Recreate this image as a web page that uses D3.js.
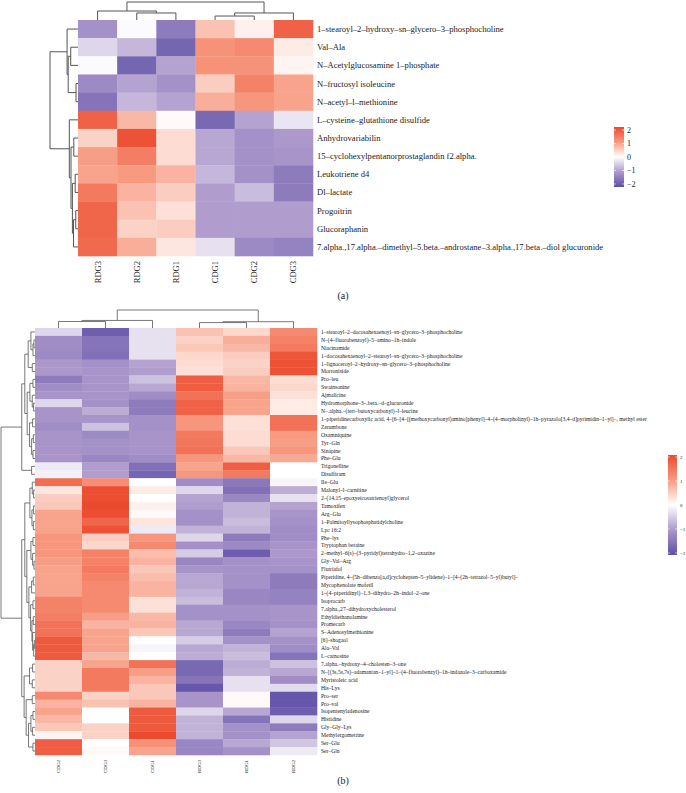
<!DOCTYPE html>
<html>
<head>
<meta charset="utf-8">
<script src="https://cdn.jsdelivr.net/npm/d3@7"></script>
<style>
  body{margin:0;background:#fff;}
  text{font-family:"Liberation Serif","DejaVu Serif",serif;fill:#222;}
</style>
</head>
<body>
<div id="chart"></div>
<script>
var W=686,H=793;

// ---------- panel (a) ----------
var topCols=["RDG3","RDG2","RDG1","CDG1","CDG2","CDG3"];
var topRows=["1\u2013stearoyl\u20132\u2013hydroxy\u2013sn\u2013glycero\u20133\u2013phosphocholine","Val\u2013Ala","N\u2013Acetylglucosamine 1\u2013phosphate","N\u2013fructosyl isoleucine","N\u2013acetyl\u2013l\u2013methionine","L\u2013cysteine\u2013glutathione disulfide","Anhydrovariabilin","15\u2013cyclohexylpentanorprostaglandin f2.alpha.","Leukotriene d4","Dl\u2013lactate","Progoitrin","Glucoraphanin","7.alpha.,17.alpha.\u2013dimethyl\u20135.beta.\u2013androstane\u20133.alpha.,17.beta.\u2013diol glucuronide"];
var topValues=[
 [-1.1,-0.05,-1.4,0.6,0.15,1.7],
 [-0.4,-0.7,-1.7,1.1,1.2,0.2],
 [-0.05,-1.7,-0.9,1.1,1.1,0.1],
 [-1.2,-0.9,-1.1,0.5,1.3,0.9],
 [-1.5,-0.7,-0.9,0.8,1.05,0.9],
 [1.7,0.7,0.05,-1.65,-0.9,-0.25],
 [0.45,1.9,0.35,-0.85,-1.1,-1.0],
 [0.95,1.35,0.35,-0.85,-1.1,-1.05],
 [0.9,1.0,0.75,-0.7,-1.1,-1.4],
 [1.4,0.75,0.5,-0.95,-0.65,-1.4],
 [1.65,0.6,0.3,-0.95,-0.95,-0.95],
 [1.65,0.45,0.5,-0.95,-0.95,-0.95],
 [1.6,0.8,0.25,-0.3,-1.2,-1.3]
];
// trees: [height, left, right], leaves are row/col index
var topRowTree=[10,[3.9,0,[3.5,[2.6,1,2],[0.7,3,4]]],[3.1,5,[2.5,[1.5,6,7],[2.0,[1.0,8,9],[1.6,[0.8,10,11],12]]]]];
var topColTree=[10,[5,0,[3.9,1,2]],[3.9,[2.2,3,4],5]];

// ---------- panel (b) ----------
var botCols=["CDG2","CDG3","CDG1","RDG3","RDG1","RDG2"];
var botRows=["1\u2013stearoyl\u20132\u2013docosahexaenoyl\u2013sn\u2013glycero\u20133\u2013phosphocholine","N\u2013(4\u2013fluorobenzoyl)\u20135\u2013amino\u20131h\u2013indole","Niacinamide","1\u2013docosahexaenoyl\u20132\u2013stearoyl\u2013sn\u2013glycero\u20133\u2013phosphocholine","1\u2013lignoceroyl\u20132\u2013hydroxy\u2013sn\u2013glycero\u20133\u2013phosphocholine","Morroniside","Pro\u2013leu","Swainsonine","Ajmalicine","Hydromorphone\u20133\u2013.beta.\u2013d\u2013glucuronide","N\u2013.alpha.\u2013(tert\u2013butoxycarbonyl)\u2013l\u2013leucine","1\u2013piperidinecarboxylic acid, 4\u2013[6\u2013[4\u2013[(methoxycarbonyl)amino]phenyl]\u20134\u2013(4\u2013morpholinyl)\u20131h\u2013pyrazolo[3,4\u2013d]pyrimidin\u20131\u2013yl]\u2013, methyl ester","Zerumbone","Oxamniquine","Tyr\u2013Gln","Sinapine","Phe\u2013Glu","Trigonelline","Disulfiram","Ile\u2013Glu","Malonyl\u2013l\u2013carnitine","2\u2013(14,15\u2013epoxyeicosatrienoyl)glycerol","Tamoxifen","Arg\u2013Glu","1\u2013Palmitoyllysophosphatidylcholine","Lpc 16:2","Phe\u2013lys","Tryptophan betaine","2\u2013methyl\u20136(s)\u2013(3\u2013pyridyl)tetrahydro\u20131,2\u2013oxazine","Gly\u2013Val\u2013Arg","Flutriafol","Piperidine, 4\u2013(5h\u2013dibenzo[a,d]cyclohepten\u20135\u2013ylidene)\u20131\u2013[4\u2013(2h\u2013tetrazol\u20135\u2013yl)butyl]\u2013","Mycophenolate mofetil","1\u2013(4\u2013piperidinyl)\u20131,3\u2013dihydro\u20132h\u2013indol\u20132\u2013one","Isoprocarb","7.alpha.,27\u2013dihydroxycholesterol","Ethyldiethanolamine","Promecarb","S\u2013Adenosylmethionine","[6]\u2013shogaol","Ala\u2013Val","L\u2013carnosine","7.alpha.\u2013hydroxy\u20134\u2013cholesten\u20133\u2013one","N\u2013[(3s,5s,7s)\u2013adamantan\u20131\u2013yl]\u20131\u2013(4\u2013fluorobenzyl)\u20131h\u2013indazole\u20133\u2013carboxamide","Myristoleic acid","His\u2013Lys","Pro\u2013ser","Pro\u2013val","Isopentenyladenosine","Histidine","Gly\u2013Gly\u2013Lys","Methylergometrine","Ser\u2013Glu","Ser\u2013Gln"];
var botValues=[
 [-0.4,-1.8,-0.3,0.6,0.4,1.2],
 [-1.15,-1.5,-0.3,0.45,0.8,1.3],
 [-1.15,-1.5,-0.3,0.55,0.7,1.4],
 [-1.2,-1.55,-0.3,0.4,0.5,1.85],
 [-1.0,-1.1,-0.9,0.35,0.45,1.9],
 [-1.0,-1.05,-0.95,0.3,0.5,1.9],
 [-1.4,-1.05,-0.6,1.75,0.7,0.35],
 [-1.15,-1.05,-0.85,1.75,0.75,0.4],
 [-1.05,-1.05,-1.15,1.5,0.95,0.3],
 [-0.4,-1.1,-1.4,1.7,0.9,0.2],
 [-1.05,-0.8,-1.4,1.7,0.9,0.2],
 [-1.05,-1.05,-1.1,1.05,0.3,1.5],
 [-1.15,-0.6,-1.1,1.05,0.3,1.5],
 [-1.05,-1.2,-1.05,1.4,0.35,1.0],
 [-1.05,-1.1,-1.05,1.45,0.35,0.95],
 [-1.05,-1.1,-1.05,1.5,0.55,1.05],
 [-1.05,-1.25,-1.15,1.05,0.7,0.85],
 [-0.2,-0.95,-1.55,0.9,1.75,0.0],
 [-0.15,-0.95,-1.7,1.05,1.4,0.0],
 [1.55,1.15,0,-1.15,-1.45,-0.1],
 [0.25,1.95,0.2,-0.4,-1.55,-0.8],
 [0.5,1.95,0,-0.9,-1.25,-0.3],
 [0.55,2.0,0.15,-0.95,-0.75,-0.9],
 [0.9,1.95,0.05,-1.1,-0.75,-1.05],
 [0.9,1.65,0.25,-1.1,-0.65,-1.1],
 [0.9,1.9,-0.2,-0.75,-0.75,-1.15],
 [1.05,0.5,1.05,-0.4,-1.4,-1.15],
 [1.05,0.4,1.2,-1.1,-1.2,-1.05],
 [1.05,1.3,0.65,-0.5,-1.8,-1.0],
 [0.95,1.3,0.75,-1.25,-1.1,-1.05],
 [0.9,1.4,0.55,-1.05,-1.1,-1.1],
 [0.9,1.3,0.65,-0.85,-1.1,-1.4],
 [0.9,1.2,0.75,-0.85,-1.1,-1.4],
 [0.9,1.2,0.75,-0.75,-1.25,-1.3],
 [1.3,1.2,0.3,-0.65,-1.25,-1.3],
 [1.3,1.2,0.3,-1.1,-1.1,-1.05],
 [1.35,0.95,0.7,-1.1,-1.1,-1.05],
 [1.5,0.75,0.75,-0.85,-1.25,-1.1],
 [1.5,0.9,0.55,-0.85,-1.4,-0.9],
 [1.8,0.9,0,-0.5,-1.1,-1.1],
 [1.8,0.9,-0.1,-0.85,-0.75,-1.15],
 [1.8,0.7,0,-0.8,-0.65,-1.5],
 [0.45,0.9,1.5,-1.65,-0.8,-0.6],
 [0.45,1.4,0.95,-1.65,-0.75,-0.85],
 [0.45,1.4,0.75,-1.5,-0.3,-1.15],
 [0.45,1.4,0.55,-1.9,-0.3,-0.35],
 [1.2,0.45,0.55,-1.05,0.05,-1.9],
 [0.75,0.6,0.75,-1.05,0.05,-1.9],
 [0.9,0,1.8,-0.4,-0.85,-1.8],
 [0.7,0,1.8,-0.75,-1.5,-0.4],
 [0.55,0.45,1.8,-0.75,-1.1,-1.4],
 [0.1,0.45,2.0,-0.75,-1.1,-0.9],
 [1.75,0,1.1,-1.25,-0.85,-0.55],
 [1.75,0.05,0.9,-1.25,-1.1,-0.2]
];
var botRowTree=[10,
 [3.9,[3.0,[2.0,[1.2,0,[0.6,[0.3,1,2],3]],[0.8,4,5]],[2.3,[1.5,[0.6,6,7],[0.8,8,[0.4,9,10]]],[1.6,[0.7,11,12],[1.0,[0.5,13,14],[0.6,15,16]]]]],[1.0,17,18]],
 [3.9,[3.0,[1.5,[0.8,19,[0.4,20,21]],[0.9,[0.4,22,23],[0.5,24,25]]],[2.4,[1.2,[0.6,26,27],[0.7,28,[0.3,29,30]]],[1.8,[1.0,[0.5,31,32],33],[1.3,[0.6,34,35],[0.9,[0.5,36,37],[0.7,38,[0.4,[0.2,39,40],41]]]]]]],
  [3.2,[1.6,[0.7,42,43],[0.8,44,45]],[2.6,[0.8,46,47],[1.9,[1.2,[0.6,48,49],[0.7,50,51]],[0.6,52,53]]]]]];
var botColTree=[10,[4.2,[3.6,0,1],2],[3.5,[3.0,3,4],5]];

var legendTicks=[2,1,0,-1,-2];

var color=d3.scaleLinear()
  .domain([-2,-1,0,1,2])
  .range(["#5e50a6","#ac98cb","#ffffff","#f79a80","#ec4a2e"])
  .clamp(true);

var svg=d3.select("#chart").append("svg")
  .attr("width",W).attr("height",H);

// draws an elbow dendrogram; row=true means heights go along x
function drawTree(g,tree,pos,hs,row,sw){
  function walk(node){
    if(typeof node==="number") return {p:pos(node),h:0};
    var a=walk(node[1]),b=walk(node[2]),h=node[0];
    var d;
    if(row){
      d="M"+hs(a.h)+","+a.p+"H"+hs(h)+"V"+b.p+"H"+hs(b.h);
    }else{
      d="M"+a.p+","+hs(a.h)+"V"+hs(h)+"H"+b.p+"V"+hs(b.h);
    }
    g.append("path").attr("d",d).attr("fill","none")
      .attr("stroke","#555").attr("stroke-width",sw);
    return {p:(a.p+b.p)/2,h:h};
  }
  walk(tree);
}

function heatmap(cfg){
  var g=svg.append("g");
  var xb=d3.scaleBand().domain(d3.range(cfg.cols.length)).range([cfg.x0,cfg.x1]);
  var yb=d3.scaleBand().domain(d3.range(cfg.rows.length)).range([cfg.y0,cfg.y1]);

  cfg.values.forEach(function(r,i){
    g.selectAll(null).data(r).enter().append("rect")
      .attr("x",function(d,j){return xb(j);})
      .attr("y",yb(i))
      .attr("width",xb.bandwidth()+0.3)
      .attr("height",yb.bandwidth()+0.3)
      .attr("fill",function(d){return color(d);});
  });

  g.selectAll(".rl").data(cfg.rows).enter().append("text")
    .attr("x",cfg.x1+cfg.labGap)
    .attr("y",function(d,i){return yb(i)+yb.bandwidth()/2;})
    .attr("dy","0.35em")
    .style("font-size",cfg.rowFont+"px")
    .text(function(d){return d;});

  g.selectAll(".cl").data(cfg.cols).enter().append("text")
    .attr("transform",function(d,i){return "translate("+(xb(i)+xb.bandwidth()/2)+","+(cfg.y1+cfg.colGap)+") rotate(-90)";})
    .attr("text-anchor","end")
    .attr("dy","0.35em")
    .style("font-size",cfg.colFont+"px")
    .text(function(d){return d;});

  var rh=d3.scaleLinear().domain([0,10]).range([cfg.x0,cfg.rowDendX]);
  drawTree(g,cfg.rowTree,function(i){return yb(i)+yb.bandwidth()/2;},rh,true,cfg.sw);
  var ch=d3.scaleLinear().domain([0,10]).range([cfg.y0,cfg.colDendY]);
  drawTree(g,cfg.colTree,function(j){return xb(j)+xb.bandwidth()/2;},ch,false,cfg.sw);

  // legend
  var ly=d3.scaleLinear().domain([-2,2]).range([cfg.leg.y1,cfg.leg.y0]);
  var id="grad"+cfg.id;
  var grad=svg.append("defs").append("linearGradient").attr("id",id)
    .attr("x1",0).attr("y1",1).attr("x2",0).attr("y2",0);
  d3.range(-2,2.01,0.5).forEach(function(v){
    grad.append("stop").attr("offset",((v+2)/4*100)+"%").attr("stop-color",color(v));
  });
  g.append("rect").attr("x",cfg.leg.x).attr("y",cfg.leg.y0-cfg.leg.pad)
    .attr("width",cfg.leg.w).attr("height",cfg.leg.y1-cfg.leg.y0+2*cfg.leg.pad)
    .attr("fill","url(#"+id+")");
  g.selectAll(".lt").data(legendTicks).enter().append("line")
    .attr("x1",cfg.leg.x).attr("x2",cfg.leg.x+cfg.leg.w*0.2)
    .attr("y1",function(d){return ly(d);}).attr("y2",function(d){return ly(d);})
    .attr("stroke","#fff").attr("stroke-width",0.6);
  g.selectAll(".lt2").data(legendTicks).enter().append("line")
    .attr("x1",cfg.leg.x+cfg.leg.w*0.8).attr("x2",cfg.leg.x+cfg.leg.w)
    .attr("y1",function(d){return ly(d);}).attr("y2",function(d){return ly(d);})
    .attr("stroke","#fff").attr("stroke-width",0.6);
  g.selectAll(".ll").data(legendTicks).enter().append("text")
    .attr("x",cfg.leg.x+cfg.leg.w+3)
    .attr("y",function(d){return ly(d);})
    .attr("dy","0.35em")
    .style("font-size",cfg.leg.font+"px")
    .text(function(d){return d<0?"\u2212"+Math.abs(d):d;});

  svg.append("text").attr("x",343).attr("y",cfg.capY)
    .attr("text-anchor","middle").style("font-size","10px").text(cfg.cap);
}

heatmap({id:"a",cols:topCols,rows:topRows,values:topValues,rowTree:topRowTree,colTree:topColTree,
  x0:78,x1:313,y0:20,y1:256,rowDendX:50,colDendY:2,labGap:4,colGap:5,rowFont:8.6,colFont:8.5,sw:1,
  leg:{x:614,w:10,y0:130,y1:184,pad:3,font:8},capY:299,cap:"(a)"});

heatmap({id:"b",cols:botCols,rows:botRows,values:botValues,rowTree:botRowTree,colTree:botColTree,
  x0:35,x1:317,y0:328,y1:755,rowDendX:1,colDendY:310,labGap:4,colGap:5,rowFont:5.6,colFont:5,sw:0.8,
  leg:{x:668,w:9,y0:457,y1:553,pad:2,font:5},capY:784,cap:"(b)"});
</script>
</body>
</html>
